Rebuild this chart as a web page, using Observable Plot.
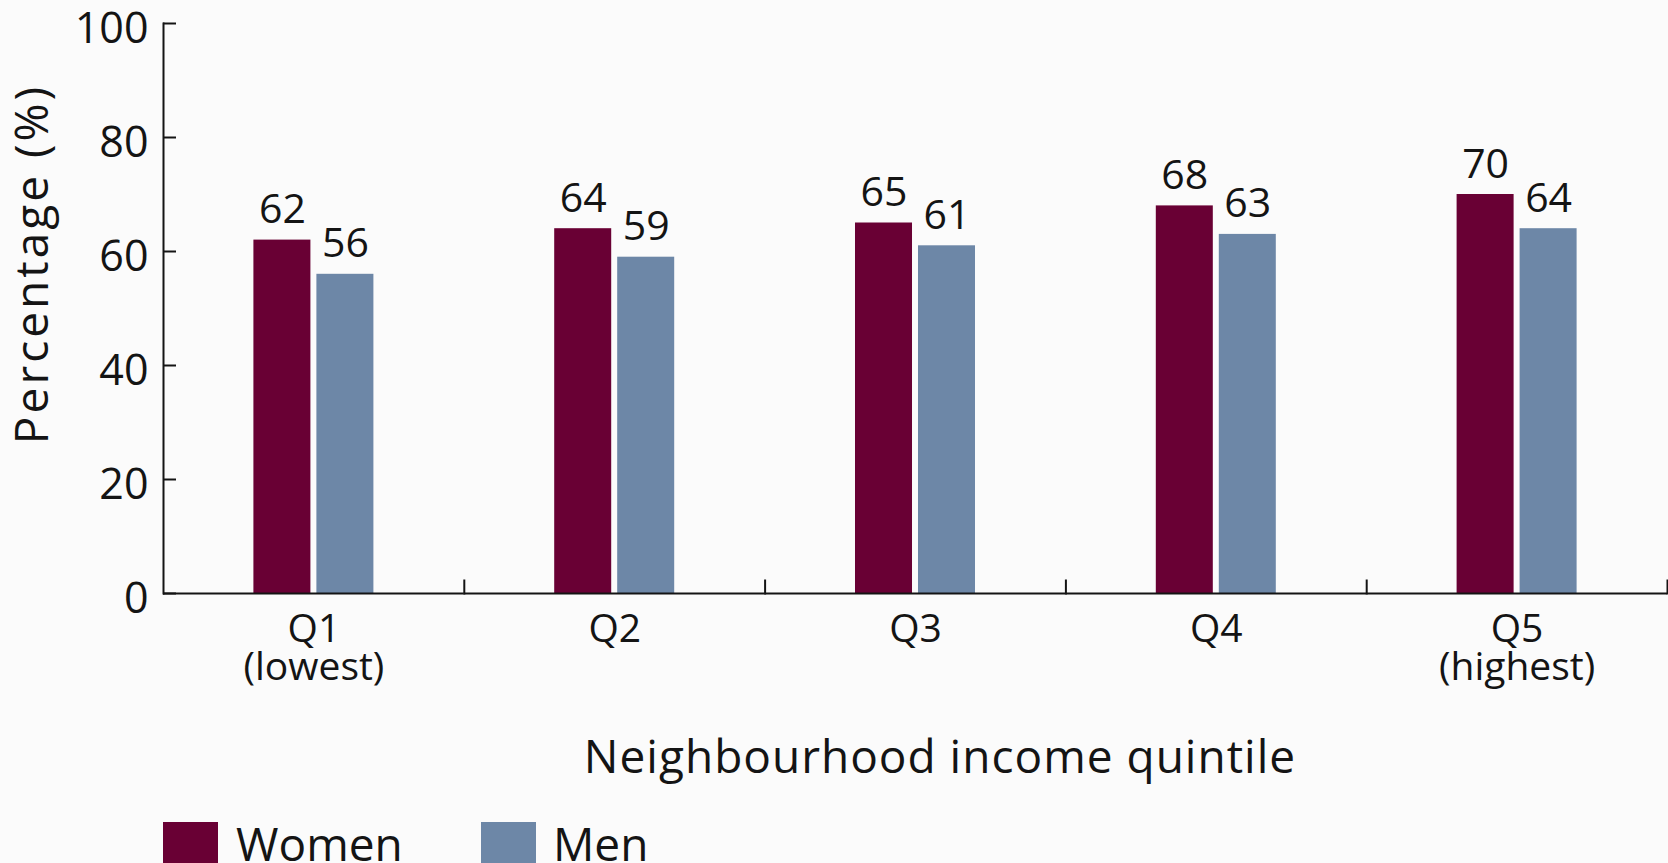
<!DOCTYPE html>
<html>
<head>
<meta charset="utf-8">
<script src="https://cdn.jsdelivr.net/npm/d3@7"></script>
<script src="https://cdn.jsdelivr.net/npm/@observablehq/plot@0.6"></script>
<style>
  html, body { margin: 0; padding: 0; background: #fbfbfb; }
  body { font-family: "Open Sans", sans-serif; color: #141414; }
  #wrap { position: relative; width: 1668px; }
  #ytitle { position: absolute; left: 30px; top: 264px; transform: translate(-50%, -50%) rotate(-90deg); white-space: nowrap; font-size: 46px; letter-spacing: 3px; line-height: 1; }
  #xtitle { position: absolute; left: 940px; top: 732px; transform: translateX(-50%); white-space: nowrap; font-size: 46px; letter-spacing: 1px; line-height: 1; }
  #legend { position: relative; width: 1668px; height: 60px; }
  .sw { position: absolute; top: 0; width: 55px; height: 55px; }
  .lt { position: absolute; top: -2px; font-size: 46px; line-height: 1; white-space: nowrap; }
</style>
</head>
<body>
<div id="wrap">
  <div id="chart"></div>
  <div id="ytitle">Percentage (%)</div>
  <div id="xtitle">Neighbourhood income quintile</div>
</div>
<div id="legend"></div>
<script>
const quintiles = ["Q1", "Q2", "Q3", "Q4", "Q5"];
const quintileLabels = ["Q1\n(lowest)", "Q2", "Q3", "Q4", "Q5\n(highest)"];
const groups = ["Women", "Men"];
const women = [62, 64, 65, 68, 70];
const men = [56, 59, 61, 63, 64];
const yTicks = [0, 20, 40, 60, 80, 100];
const colors = ["#690034", "#6d87a7"];

const data = quintiles.flatMap((q, i) => [
  {q, g: groups[0], v: women[i]},
  {q, g: groups[1], v: men[i]}
]);

const ink = "#141414";
const tickLen = 13;

const chart = Plot.plot({
  width: 1668,
  height: 822,
  marginLeft: 163,
  marginRight: 1,
  marginTop: 23,
  marginBottom: 229,
  style: {background: "transparent", fontFamily: "'Open Sans', sans-serif", color: ink},
  fx: {domain: quintiles, paddingInner: 0, paddingOuter: 0, round: false, label: null},
  x: {domain: groups, paddingInner: 0.095, paddingOuter: 1.435, round: false, axis: null, label: null},
  y: {domain: [0, 100], label: null},
  color: {domain: groups, range: colors},
  marks: [
    Plot.barY(data, {fx: "q", x: "g", y: "v", fill: "g"}),
    Plot.ruleY([0], {stroke: ink, strokeWidth: 2}),
    Plot.frame({anchor: "right", insetTop: 570 - tickLen, stroke: ink, strokeWidth: 2}),
    Plot.frame({anchor: "left", facetAnchor: "left", stroke: ink, strokeWidth: 2}),
    // inward-pointing y ticks
    Plot.axisY(yTicks, {tickSize: -tickLen, fill: "none", stroke: ink, strokeWidth: 2, label: null}),
    // y tick labels
    Plot.axisY(yTicks, {tickSize: 0, tickPadding: 15, fontSize: 43, dy: 6, fill: ink, label: null}),
    Plot.axisFx({anchor: "bottom", tickSize: 0, tickPadding: 22, fontSize: 39, lineHeight: 0.97, fill: ink, label: null,
      tickFormat: d => quintileLabels[quintiles.indexOf(d)]}),
    Plot.text(data, {fx: "q", x: "g", y: "v", text: d => String(d.v), lineAnchor: "bottom", dy: -17, fontSize: 41, fill: ink})
  ]
});
document.getElementById("chart").appendChild(chart);

const legend = document.getElementById("legend");
const legendPos = [{sw: 163, tx: 236}, {sw: 481, tx: 553}];
groups.forEach((g, i) => {
  const s = document.createElement("div");
  s.className = "sw";
  s.style.left = legendPos[i].sw + "px";
  s.style.background = colors[i];
  legend.appendChild(s);
  const t = document.createElement("div");
  t.className = "lt";
  t.style.left = legendPos[i].tx + "px";
  t.textContent = g;
  legend.appendChild(t);
});
</script>
</body>
</html>
